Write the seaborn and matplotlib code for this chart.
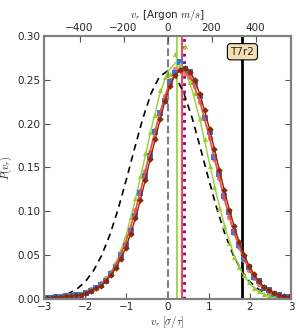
import numpy as np
import pandas as pd
import matplotlib
matplotlib.use("Agg")
import matplotlib.pyplot as plt
import seaborn as sns

sns.set_style("ticks")
plt.rcParams["font.family"] = ["DejaVu Sans"]
plt.rcParams["mathtext.fontset"] = "cm"

# histogram bin centres [sigma/tau]
vr_bins = [-2.94, -2.82, -2.70, -2.58, -2.46, -2.34, -2.22, -2.10, -1.98, -1.86,
           -1.74, -1.62, -1.50, -1.38, -1.26, -1.14, -1.02, -0.90, -0.78, -0.66,
           -0.54, -0.42, -0.30, -0.18, -0.06, 0.06, 0.18, 0.30, 0.42, 0.54,
           0.66, 0.78, 0.90, 1.02, 1.14, 1.26, 1.38, 1.50, 1.62, 1.74,
           1.86, 1.98, 2.10, 2.22, 2.34, 2.46, 2.58, 2.70, 2.82, 2.94]

p_blue = [0.001, 0.001, 0.002, 0.002, 0.003, 0.003, 0.004, 0.005, 0.007, 0.009,
          0.012, 0.016, 0.021, 0.028, 0.037, 0.050, 0.060, 0.077, 0.095, 0.121,
          0.140, 0.163, 0.190, 0.212, 0.226, 0.247, 0.258, 0.270, 0.262, 0.259,
          0.247, 0.232, 0.207, 0.190, 0.162, 0.143, 0.117, 0.099, 0.076, 0.062,
          0.046, 0.036, 0.025, 0.020, 0.012, 0.010, 0.006, 0.005, 0.002, 0.002]

p_pink = [0.001, 0.0015, 0.002, 0.003, 0.003, 0.004, 0.005, 0.006, 0.008, 0.011,
          0.014, 0.018, 0.024, 0.031, 0.040, 0.052, 0.064, 0.080, 0.101, 0.123,
          0.146, 0.168, 0.193, 0.213, 0.232, 0.250, 0.262, 0.262, 0.258, 0.253,
          0.243, 0.225, 0.206, 0.184, 0.160, 0.138, 0.115, 0.094, 0.075, 0.059,
          0.045, 0.033, 0.024, 0.017, 0.012, 0.008, 0.005, 0.004, 0.002, 0.002]

p_brown = [0.001, 0.001, 0.002, 0.002, 0.003, 0.003, 0.004, 0.005, 0.007, 0.009,
           0.012, 0.015, 0.020, 0.027, 0.035, 0.046, 0.058, 0.074, 0.092, 0.113,
           0.136, 0.160, 0.182, 0.205, 0.226, 0.243, 0.255, 0.261, 0.264, 0.259,
           0.250, 0.234, 0.215, 0.194, 0.171, 0.147, 0.124, 0.102, 0.083, 0.065,
           0.050, 0.038, 0.028, 0.020, 0.014, 0.010, 0.007, 0.004, 0.003, 0.002]

p_green = [0.001, 0.001, 0.002, 0.003, 0.004, 0.005, 0.006, 0.007, 0.009, 0.011,
           0.013, 0.017, 0.023, 0.031, 0.042, 0.055, 0.072, 0.093, 0.115, 0.140,
           0.166, 0.191, 0.210, 0.238, 0.253, 0.257, 0.279, 0.268, 0.288, 0.247,
           0.235, 0.206, 0.182, 0.152, 0.128, 0.104, 0.083, 0.064, 0.048, 0.036,
           0.027, 0.019, 0.013, 0.009, 0.006, 0.004, 0.003, 0.002, 0.001, 0.001]

# fitted / reference curves
vr_fit = [-3.0, -2.8, -2.6, -2.4, -2.2, -2.0, -1.8, -1.6, -1.4, -1.2, -1.0,
          -0.8, -0.6, -0.4, -0.2, 0.0, 0.2, 0.4, 0.6, 0.8, 1.0,
          1.2, 1.4, 1.6, 1.8, 2.0, 2.2, 2.4, 2.6, 2.8, 3.0]

fit_red = [0.001, 0.0015, 0.002, 0.003, 0.004, 0.006, 0.010, 0.016, 0.027, 0.044, 0.067,
           0.097, 0.134, 0.173, 0.210, 0.240, 0.258, 0.261, 0.249, 0.223, 0.188,
           0.149, 0.111, 0.078, 0.052, 0.032, 0.019, 0.010, 0.005, 0.003, 0.001]

fit_green = [0.0005, 0.001, 0.0015, 0.002, 0.003, 0.005, 0.009, 0.016, 0.028, 0.047, 0.074,
             0.110, 0.151, 0.193, 0.232, 0.259, 0.270, 0.263, 0.238, 0.202, 0.159,
             0.117, 0.081, 0.052, 0.031, 0.017, 0.009, 0.0045, 0.002, 0.001, 0.0005]

ref_gauss = [0.0008, 0.0017, 0.0033, 0.0063, 0.0115, 0.0197, 0.0322, 0.0498, 0.0734, 0.1027, 0.1364,
             0.1720, 0.2061, 0.2345, 0.2534, 0.260, 0.2534, 0.2345, 0.2061, 0.1720, 0.1364,
             0.1027, 0.0734, 0.0498, 0.0322, 0.0197, 0.0115, 0.0063, 0.0033, 0.0017, 0.0008]

mean_green = 0.24
mean_red = 0.34
mean_purple = 0.40
vr_sound = 1.82
ms_per_unit = 187.0

markers = pd.DataFrame({"vr": vr_bins, "blue": p_blue, "pink": p_pink,
                        "brown": p_brown, "green": p_green})
fits = pd.DataFrame({"vr": vr_fit, "red": fit_red, "green": fit_green, "ref": ref_gauss})

fig = plt.figure(figsize=(3.0, 3.3), dpi=100)
ax = fig.add_axes([0.147, 0.094, 0.823, 0.797])

# vertical reference lines
ax.axvline(0, color="#808080", ls="--", lw=1.5, zorder=1)
ax.axvline(mean_green, color="#9acd32", lw=1.2, zorder=1)
ax.axvline(mean_red, color="#e8504a", lw=1.5, zorder=1)
ax.axvline(mean_purple, color="#8b008b", ls=":", lw=2, zorder=1)
ax.axvline(vr_sound, color="black", lw=2, zorder=1)

sns.lineplot(data=fits, x="vr", y="ref", ax=ax, color="black", lw=1.2,
             zorder=2).lines[-1].set_dashes([4, 3])
sns.lineplot(data=fits, x="vr", y="green", ax=ax, color="#9acd32", lw=1.0, zorder=3)

sns.scatterplot(data=markers, x="vr", y="pink", ax=ax, color="#f47c7c", marker="o",
                s=15, linewidth=0, zorder=4)
sns.scatterplot(data=markers, x="vr", y="blue", ax=ax, color="#2c78e8", marker="s",
                s=14, linewidth=0, zorder=4)
sns.scatterplot(data=markers, x="vr", y="green", ax=ax, color="#9acd32", marker="^",
                s=14, linewidth=0, zorder=5)
sns.lineplot(data=fits, x="vr", y="red", ax=ax, color="#e8504a", lw=1.3, zorder=6)
sns.lineplot(data=markers, x="vr", y="brown", ax=ax, color="#8b2a0a", lw=1.0,
             marker="D", markersize=3.3, markeredgewidth=0, zorder=7)

ax.text(vr_sound, 0.282, "T7r2", ha="center", va="center", fontsize=7.5, zorder=8,
        bbox=dict(boxstyle="round,pad=0.3", fc="#f5deb3", ec="black", lw=0.8))

ax.set_xlim(-3, 3)
ax.set_ylim(0, 0.30)
ax.set_yticks([0.0, 0.05, 0.10, 0.15, 0.20, 0.25, 0.30])
ax.set_yticklabels([f"{v:.2f}" for v in [0.0, 0.05, 0.10, 0.15, 0.20, 0.25, 0.30]])
ax.set_xticks([-3, -2, -1, 0, 1, 2, 3])
ax.set_xticklabels(["\u22123", "\u22122", "\u22121", "0", "1", "2", "3"])
ax.set_xlabel(r"$v_r\ [\sigma/\tau]$", fontsize=7.5, labelpad=1)
ax.set_ylabel(r"$P(v_r)$", fontsize=7.5)
ax.yaxis.set_label_coords(-0.12, 0.5)
ax.tick_params(axis="both", direction="in", length=4, width=0.8, color="#555555",
               labelsize=7.5, right=True, top=False, pad=2.5)

ax2 = ax.twiny()
ax2.set_xlim(-3 * ms_per_unit, 3 * ms_per_unit)
ax2.set_xticks([-400, -200, 0, 200, 400])
ax2.set_xticklabels(["\u2212400", "\u2212200", "0", "200", "400"])
ax2.set_xlabel(r"$v_r$ [Argon $m/s$]", fontsize=7.5, labelpad=4)
ax2.tick_params(axis="x", direction="in", length=4, width=0.8, color="#555555",
                labelsize=7.5, pad=2)

for a in (ax, ax2):
    for sp in a.spines.values():
        sp.set_visible(True)
        sp.set_color("#808080")
        sp.set_linewidth(1.5)

fig.savefig("out.png", dpi=100)
